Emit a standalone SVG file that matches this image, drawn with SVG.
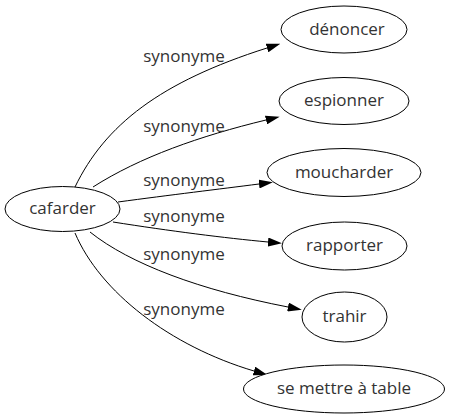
<svg xmlns="http://www.w3.org/2000/svg" width="450" height="419" viewBox="0 0 450 419">
<defs>
<style>
.n ellipse{fill:#fff;stroke:#000;stroke-width:1}
text{font-family:"Open Sans","DejaVu Sans",sans-serif;font-size:17px;fill:#333;text-anchor:middle}
.e path{fill:none;stroke:#000;stroke-width:1}
</style>
<marker id="a" viewBox="0 0 14 9" refX="0" refY="4.5" markerWidth="14" markerHeight="9" markerUnits="userSpaceOnUse" orient="auto">
<path d="M0,0 L14,4.5 L0,9 z" fill="#000"/>
</marker>
</defs>
<rect width="450" height="419" fill="#fff"/>
<g id="edges" class="e">
<path d="M75,187 C105,125 160,82 267,48" marker-end="url(#a)"/>
<path d="M93,187 C140,157 200,136 266,120" marker-end="url(#a)"/>
<path d="M118,202 C170,195 220,189 259,184" marker-end="url(#a)"/>
<path d="M113,222 C170,231 225,238 268,242" marker-end="url(#a)"/>
<path d="M90,232 C130,264 200,290 288,307" marker-end="url(#a)"/>
<path d="M75,233 C100,292 170,346 254,371" marker-end="url(#a)"/>
<text x="184" y="62">synonyme</text>
<text x="184" y="132">synonyme</text>
<text x="184" y="186">synonyme</text>
<text x="184" y="222">synonyme</text>
<text x="184" y="260">synonyme</text>
<text x="184" y="315">synonyme</text>
</g>
<g id="cafarder" class="n"><ellipse cx="62.5" cy="209" rx="57.5" ry="22.5"/><text x="62.5" y="214">cafarder</text></g>
<g id="denoncer" class="n"><ellipse cx="344" cy="29.5" rx="63" ry="23.5"/><text x="347" y="34.5">dénoncer</text></g>
<g id="espionner" class="n"><ellipse cx="344" cy="101" rx="65" ry="23.5"/><text x="344" y="106">espionner</text></g>
<g id="moucharder" class="n"><ellipse cx="344" cy="172.5" rx="77" ry="24"/><text x="344" y="177.5">moucharder</text></g>
<g id="rapporter" class="n"><ellipse cx="344.5" cy="246" rx="62.5" ry="24"/><text x="344.5" y="251">rapporter</text></g>
<g id="trahir" class="n"><ellipse cx="344.5" cy="317" rx="42.5" ry="25"/><text x="344.5" y="322">trahir</text></g>
<g id="se-mettre-a-table" class="n"><ellipse cx="344" cy="389" rx="100.5" ry="24"/><text x="344" y="394">se mettre à table</text></g>
</svg>
